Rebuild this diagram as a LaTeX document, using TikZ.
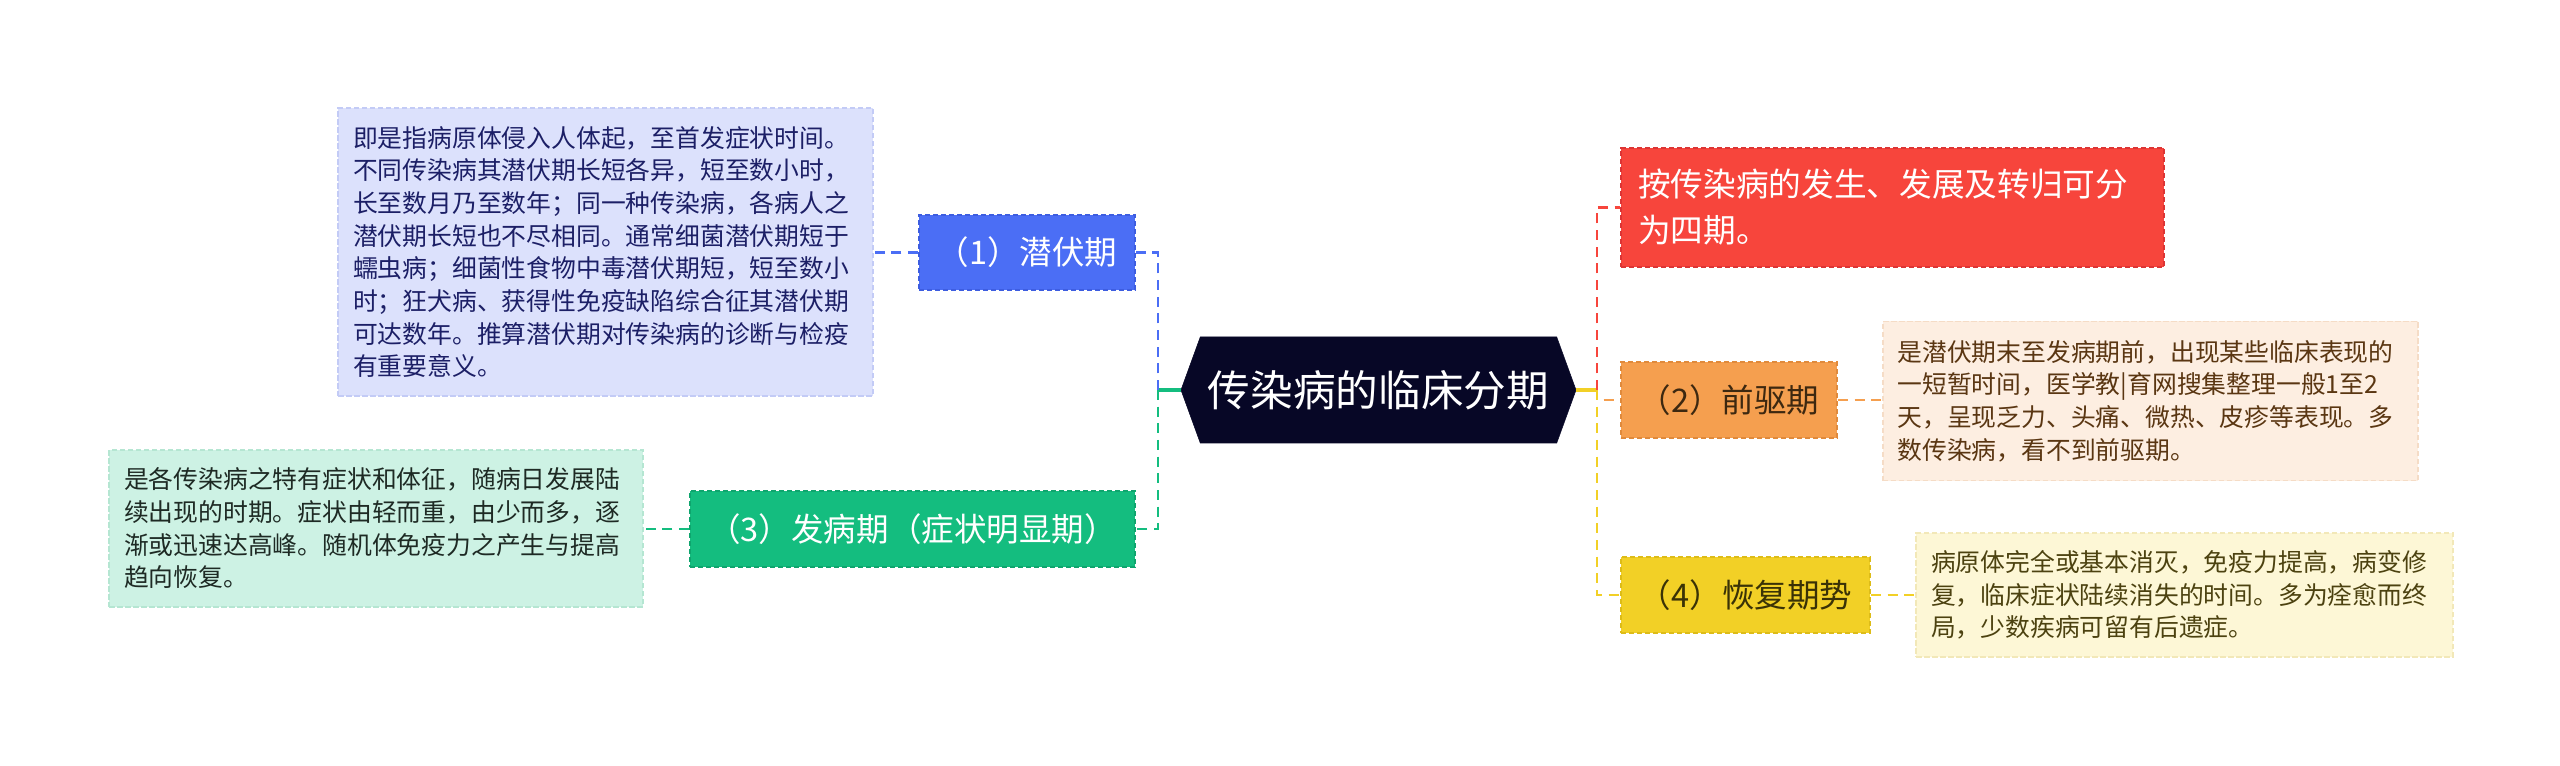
\documentclass[tikz,border=0pt]{standalone}
\usepackage{fontspec}
\setmainfont{Noto Sans CJK SC}
\usetikzlibrary{shapes.symbols,calc}
\definecolor{rootfill}{HTML}{070726}
\definecolor{cblue}{HTML}{4B6EF5}
\definecolor{cbluedk}{HTML}{3D5DE0}
\definecolor{bluebox}{HTML}{DCE1FC}
\definecolor{blueboxbd}{HTML}{C3CBF6}
\definecolor{bluetext}{HTML}{1C1F66}
\definecolor{cgreen}{HTML}{14BD7F}
\definecolor{cgreendk}{HTML}{0FA56E}
\definecolor{greenbox}{HTML}{CDF2E4}
\definecolor{greenboxbd}{HTML}{B5E6D2}
\definecolor{greentext}{HTML}{1E2A24}
\definecolor{cred}{HTML}{F7453C}
\definecolor{creddk}{HTML}{DC3535}
\definecolor{corange}{HTML}{F59F4F}
\definecolor{corangedk}{HTML}{E08A3C}
\definecolor{orangebox}{HTML}{FDEEE1}
\definecolor{orangeboxbd}{HTML}{F5DCC6}
\definecolor{orangetext}{HTML}{5A3612}
\definecolor{orangentext}{HTML}{3D2810}
\definecolor{cyellow}{HTML}{F2D026}
\definecolor{cyellowdk}{HTML}{DDBC18}
\definecolor{yellowbox}{HTML}{FDF7D6}
\definecolor{yellowboxbd}{HTML}{F2E8B8}
\definecolor{yellowtext}{HTML}{4C4210}
\definecolor{yellowntext}{HTML}{3A3206}
\tikzset{
  x=0.75pt, y=-0.75pt,
  bd/.style={line width=1.4pt, dash pattern=on 4pt off 2pt},
  branch/.style={bd, inner sep=0pt, font=\fontsize{24.4pt}{30pt}\selectfont, align=center},
  detail/.style={bd, inner xsep=11pt, inner ysep=0pt, align=left,
     font=\fontsize{18.6pt}{24.5pt}\selectfont},
  conn/.style={line width=2.2pt, dash pattern=on 7.5pt off 5pt},
  stub/.style={line width=2.4pt},
}
\begin{document}
\begin{tikzpicture}
\useasboundingbox[fill=white] (0,0) rectangle (2560,766);
% root
\node[signal, signal to=west and east, signal pointer angle=140,
      fill=rootfill, draw=rootfill, text=white, inner sep=0pt,
      minimum width=395*0.75pt, minimum height=106*0.75pt,
      font=\fontsize{32pt}{38pt}\selectfont] (root) at (1378.5,390) {传染病的临床分期};
% left branches
\node[branch, fill=cblue, draw=cbluedk, text=white,
      minimum width=216*0.75pt, minimum height=75*0.75pt] (n1) at (1027,252.5) {（1）潜伏期};
\node[detail, fill=bluebox, draw=blueboxbd, text=bluetext,
      text width=505*0.75pt, minimum height=288*0.75pt] (b1) at (605.5,252)
{即是指病原体侵入人体起，至首发症状时间。\\
不同传染病其潜伏期长短各异，短至数小时，\\
长至数月乃至数年；同一种传染病，各病人之\\
潜伏期长短也不尽相同。通常细菌潜伏期短于\\
蠕虫病；细菌性食物中毒潜伏期短，短至数小\\
时；狂犬病、获得性免疫缺陷综合征其潜伏期\\
可达数年。推算潜伏期对传染病的诊断与检疫\\
有重要意义。};
\node[branch, fill=cgreen, draw=cgreendk, text=white,
      minimum width=445*0.75pt, minimum height=76*0.75pt] (n3) at (912.5,529) {（3）发病期（症状明显期）};
\node[detail, fill=greenbox, draw=greenboxbd, text=greentext,
      text width=504*0.75pt, minimum height=157*0.75pt] (b3) at (376,528.5)
{是各传染病之特有症状和体征，随病日发展陆\\
续出现的时期。症状由轻而重，由少而多，逐\\
渐或迅速达高峰。随机体免疫力之产生与提高\\
趋向恢复。};
% right branches
\node[bd, fill=cred, draw=creddk, text=white, align=left, inner xsep=12.75pt, inner ysep=0pt,
      text width=509*0.75pt, minimum height=119*0.75pt,
      font=\fontsize{24.5pt}{34.5pt}\selectfont] (red) at (1892.5,207.5)
{按传染病的发生、发展及转归可分\\为四期。};
\node[branch, fill=corange, draw=corangedk, text=orangentext,
      minimum width=216*0.75pt, minimum height=76*0.75pt] (n2) at (1729,400) {（2）前驱期};
\node[detail, fill=orangebox, draw=orangeboxbd, text=orangetext,
      text width=506*0.75pt, minimum height=159*0.75pt] (b2) at (2150.5,401)
{是潜伏期末至发病期前，出现某些临床表现的\\
一短暂时间，医学教|育网搜集整理一般1至2\\
天，呈现乏力、头痛、微热、皮疹等表现。多\\
数传染病，看不到前驱期。};
\node[branch, fill=cyellow, draw=cyellowdk, text=yellowntext,
      minimum width=249*0.75pt, minimum height=76*0.75pt] (n4) at (1745.5,595) {（4）恢复期势};
\node[detail, fill=yellowbox, draw=yellowboxbd, text=yellowtext,
      text width=507*0.75pt, minimum height=124*0.75pt] (b4) at (2184.5,595)
{病原体完全或基本消灭，免疫力提高，病变修\\
复，临床症状陆续消失的时间。多为痊愈而终\\
局，少数疾病可留有后遗症。};
% junctions
\coordinate (L) at (1158,390);
\coordinate (R) at (1597,390);
% connectors left
\draw[stub, cgreen] (root.west) -- (L);
\draw[conn, cblue] (L) |- (n1.east);
\draw[conn, cgreen] (L) |- (n3.east);
\draw[conn, cblue] (n1.west) -- (n1.west -| b1.east);
\draw[conn, cgreen] (n3.west) -- (n3.west -| b3.east);
% connectors right
\draw[stub, cyellow] (root.east) -- (R);
\draw[conn, cred] (R) |- (red.west);
\draw[conn, corange] (R) |- (n2.west);
\draw[conn, cyellow] (R) |- (n4.west);
\draw[conn, corange] (n2.east) -- (n2.east -| b2.west);
\draw[conn, cyellow] (n4.east) -- (n4.east -| b4.west);
\end{tikzpicture}
\end{document}
